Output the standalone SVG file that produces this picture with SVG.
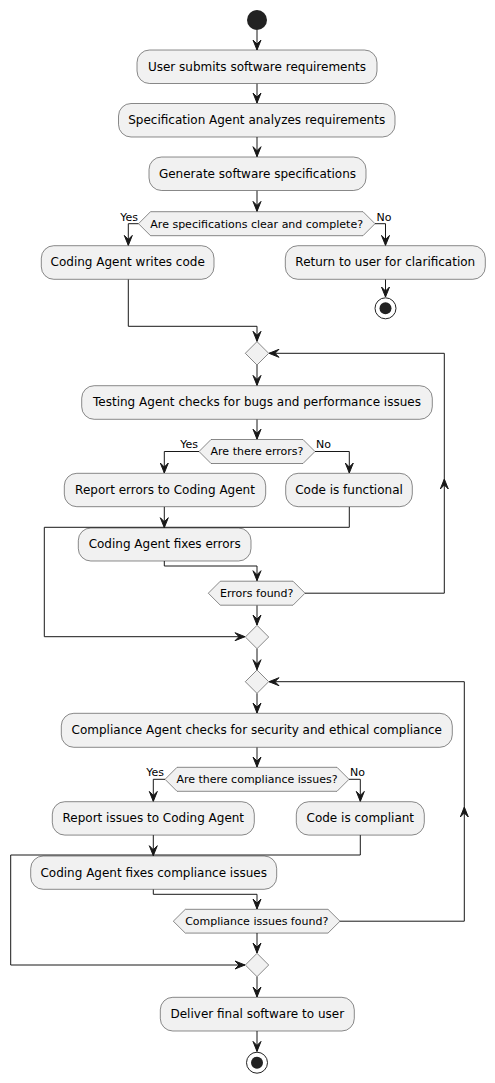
<svg xmlns="http://www.w3.org/2000/svg" width="495" height="1083" viewBox="0 0 495 1083">
<style>
.box{fill:#F1F1F1;stroke:#181818;stroke-width:0.5}
.dec{fill:#F1F1F1;stroke:#181818;stroke-width:0.5}
.t{font-family:"DejaVu Sans",sans-serif;font-size:12px;fill:#000;text-anchor:middle}
.dt{font-family:"DejaVu Sans",sans-serif;font-size:11px;fill:#000;text-anchor:middle}
.lbl{font-family:"DejaVu Sans",sans-serif;font-size:11px;fill:#000}
.ln{fill:none;stroke:#181818;stroke-width:1;marker-end:url(#arr)}
.ah{fill:#181818;stroke:#181818;stroke-width:1}
</style>
<defs>
<marker id="arr" markerUnits="userSpaceOnUse" markerWidth="12" markerHeight="10" viewBox="0 0 12 10" refX="10" refY="5" orient="auto" overflow="visible">
<path d="M10,5 L0,1 L4,5 L0,9 Z" fill="#181818" stroke="#181818" stroke-width="1" stroke-linejoin="miter"/>
</marker>
</defs>
<rect width="495" height="1083" fill="#FFFFFF"/>
<g id="connectors">
<path class="ln" d="M257,30 V50"/>
<path class="ln" d="M257,83.5 V103"/>
<path class="ln" d="M257,137 V156.7"/>
<path class="ln" d="M257,190.5 V211.4"/>
<path class="ln" d="M138.5,223.7 H128.3 V245.4"/>
<path class="ln" d="M375,223.7 H385.5 V245.4"/>
<path class="ln" d="M385.5,279.3 V297"/>
<path class="ln" d="M128.3,279.3 V326.3 H257 V341.3"/>
<path class="ln" d="M257,365 V385.4"/>
<path class="ln" d="M257,419.3 V439.2"/>
<path class="ln" d="M199,451.5 H164.3 V473"/>
<path class="ln" d="M315,451.5 H349.3 V473"/>
<path class="ln" d="M164.3,506.7 V527.7"/>
<path class="ln" d="M349.3,506.7 V527.3 H44.3 V636.7 H245"/>
<path class="ln" d="M164.3,561 V566 H257 V580.7"/>
<path class="ln" d="M305,593.2 H444.3 V353.3 H269"/>
<polygon class="ah" points="444.3,479 440.3,489 444.3,485 448.3,489"/>
<path class="ln" d="M257,605.3 V625"/>
<path class="ln" d="M257,648.7 V669.7"/>
<path class="ln" d="M257,693.4 V713"/>
<path class="ln" d="M257,747.3 V767"/>
<path class="ln" d="M165,779.3 H153.3 V801.4"/>
<path class="ln" d="M349,779.3 H360.3 V801.4"/>
<path class="ln" d="M153.3,835.1 V855.7"/>
<path class="ln" d="M360.3,835.1 V855 H10.7 V965 H245"/>
<path class="ln" d="M153.3,889.3 V894.3 H257 V909"/>
<path class="ln" d="M340,921.2 H464.3 V681.7 H269"/>
<polygon class="ah" points="464.3,807 460.3,817 464.3,813 468.3,817"/>
<path class="ln" d="M257,933 V953"/>
<path class="ln" d="M257,976.7 V997"/>
<path class="ln" d="M257,1031 V1051.4"/>
</g>
<g id="start"><circle cx="257" cy="20" r="10" fill="#222222"/></g>
<g id="n1"><rect class="box" x="137" y="50" width="240" height="33.5" rx="12.5"/><text class="t" x="257" y="70.5">User submits software requirements</text></g>
<g id="n2"><rect class="box" x="118.5" y="103.5" width="276.5" height="33.5" rx="12.5"/><text class="t" x="256.7" y="124">Specification Agent analyzes requirements</text></g>
<g id="n3"><rect class="box" x="149" y="157" width="217" height="33.5" rx="12.5"/><text class="t" x="257.5" y="177.5">Generate software specifications</text></g>
<g id="d1"><polygon class="dec" points="138.5,223.7 150.5,211.7 363,211.7 375,223.7 363,235.7 150.5,235.7"/><text class="dt" x="256.7" y="227.5">Are specifications clear and complete?</text><text class="lbl" x="138" y="220.5" text-anchor="end">Yes</text><text class="lbl" x="376.5" y="220.5">No</text></g>
<g id="n4"><rect class="box" x="41.3" y="245.7" width="172.7" height="33.6" rx="12.5"/><text class="t" x="127.7" y="266.2">Coding Agent writes code</text></g>
<g id="n5"><rect class="box" x="285.3" y="245.7" width="200" height="33.6" rx="12.5"/><text class="t" x="385.3" y="266.2">Return to user for clarification</text></g>
<g id="end1"><circle cx="385.5" cy="308.3" r="10.5" fill="#FFFFFF" stroke="#222222" stroke-width="1"/><circle cx="385.5" cy="308.3" r="6" fill="#222222"/></g>
<g id="m1"><polygon class="dec" points="257,341.6 268.7,353.3 257,365 245.3,353.3"/></g>
<g id="n6"><rect class="box" x="81.7" y="385.7" width="350.6" height="33.6" rx="12.5"/><text class="t" x="257" y="406.2">Testing Agent checks for bugs and performance issues</text></g>
<g id="d2"><polygon class="dec" points="199,451.5 211,439.5 303,439.5 315,451.5 303,463.5 211,463.5"/><text class="dt" x="257" y="455.3">Are there errors?</text><text class="lbl" x="198" y="448.2" text-anchor="end">Yes</text><text class="lbl" x="316" y="448.2">No</text></g>
<g id="n7"><rect class="box" x="64.3" y="473.3" width="201.4" height="33.4" rx="12.5"/><text class="t" x="165" y="493.8">Report errors to Coding Agent</text></g>
<g id="n8"><rect class="box" x="285.7" y="473.3" width="126.6" height="33.4" rx="12.5"/><text class="t" x="349" y="493.8">Code is functional</text></g>
<g id="n9"><rect class="box" x="78.3" y="528" width="172.7" height="33" rx="12.5"/><text class="t" x="164.7" y="548.3">Coding Agent fixes errors</text></g>
<g id="d3"><polygon class="dec" points="208.3,593.2 220.3,581.2 293,581.2 305,593.2 293,605.2 220.3,605.2"/><text class="dt" x="256.7" y="597">Errors found?</text></g>
<g id="m2"><polygon class="dec" points="257,625.3 268.7,637 257,648.7 245.3,637"/></g>
<g id="m3"><polygon class="dec" points="257,670 268.7,681.7 257,693.4 245.3,681.7"/></g>
<g id="n10"><rect class="box" x="61.3" y="713.3" width="391" height="34" rx="12.5"/><text class="t" x="256.8" y="734">Compliance Agent checks for security and ethical compliance</text></g>
<g id="d4"><polygon class="dec" points="165,779.3 177,767.3 337,767.3 349,779.3 337,791.3 177,791.3"/><text class="dt" x="257" y="783.1">Are there compliance issues?</text><text class="lbl" x="164" y="776.3" text-anchor="end">Yes</text><text class="lbl" x="350" y="776.3">No</text></g>
<g id="n11"><rect class="box" x="52.3" y="801.7" width="202" height="33.4" rx="12.5"/><text class="t" x="153.3" y="822.2">Report issues to Coding Agent</text></g>
<g id="n12"><rect class="box" x="296.3" y="801.7" width="128" height="33.4" rx="12.5"/><text class="t" x="360.3" y="822.2">Code is compliant</text></g>
<g id="n13"><rect class="box" x="30.7" y="856" width="246" height="33.3" rx="12.5"/><text class="t" x="153.7" y="876.5">Coding Agent fixes compliance issues</text></g>
<g id="d5"><polygon class="dec" points="173.3,921.2 185.3,909.3 328,909.3 340,921.2 328,933.1 185.3,933.1"/><text class="dt" x="256.7" y="925">Compliance issues found?</text></g>
<g id="m4"><polygon class="dec" points="257,953.3 268.7,965 257,976.7 245.3,965"/></g>
<g id="n14"><rect class="box" x="160.3" y="997.3" width="194" height="33.7" rx="12.5"/><text class="t" x="257.3" y="1017.8">Deliver final software to user</text></g>
<g id="end2"><circle cx="257" cy="1062.7" r="10.5" fill="#FFFFFF" stroke="#222222" stroke-width="1"/><circle cx="257" cy="1062.7" r="6" fill="#222222"/></g>
</svg>
